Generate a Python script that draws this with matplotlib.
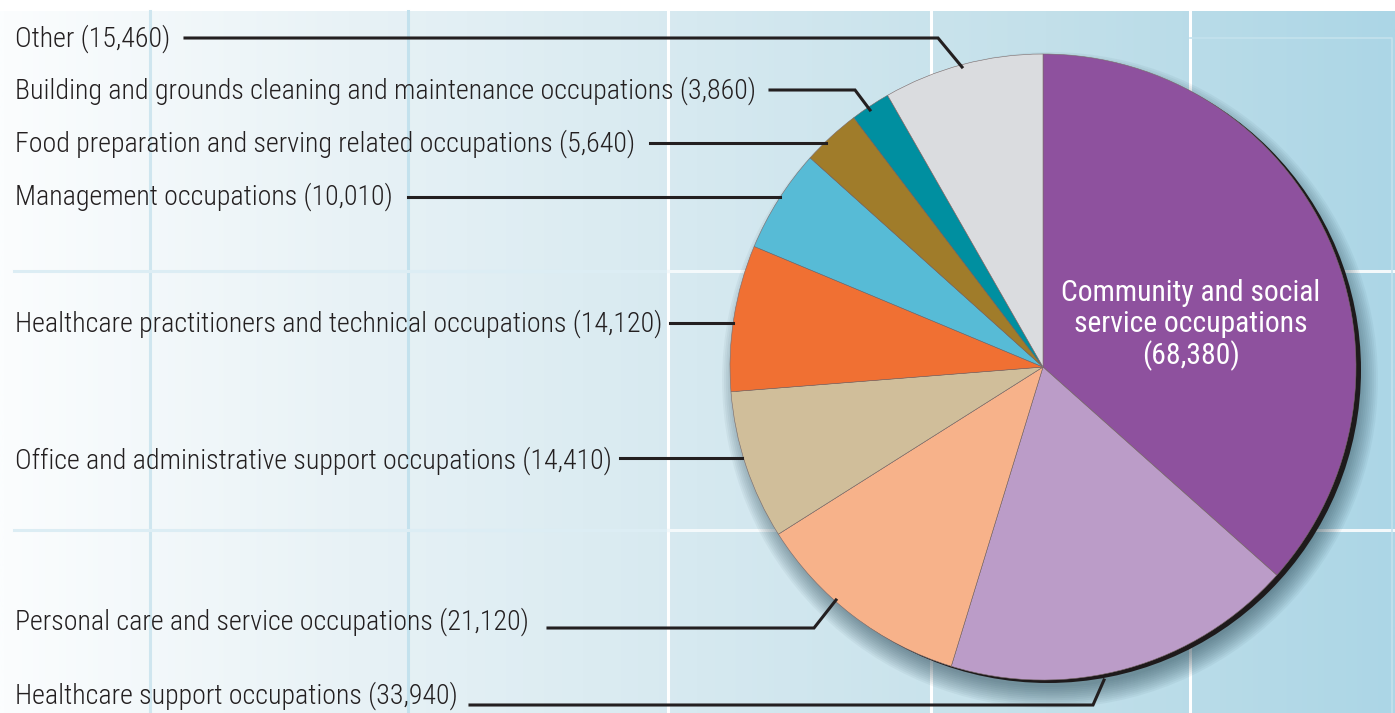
import numpy as np
import matplotlib
matplotlib.use('Agg')
import matplotlib.pyplot as plt
from matplotlib.patches import Circle
from matplotlib.colors import LinearSegmentedColormap

# data, clockwise from the top
occupations = ['Community and social service occupations',
               'Healthcare support occupations',
               'Personal care and service occupations',
               'Office and administrative support occupations',
               'Healthcare practitioners and technical occupations',
               'Management occupations',
               'Food preparation and serving related occupations',
               'Building and grounds cleaning and maintenance occupations',
               'Other']
employment = [68380, 33940, 21120, 14410, 14120, 10010, 5640, 3860, 15460]
slice_colors = ['#8e519e', '#bb9cc8', '#f7b28a', '#d0be9a', '#f07033',
                '#57bbd6', '#a07c2a', '#008fa0', '#dadcdf']

FONT = ['Roboto Condensed', 'DejaVu Sans']

W, H = 1395, 713
fig = plt.figure(figsize=(W / 100, H / 100), dpi=100)
ax = fig.add_axes([0, 0, 1, 1])

def Y(y):
    # pixel row (from top) -> data y
    return H - y

# background gradient
bg = LinearSegmentedColormap.from_list('bg', ['#fbfdfe', '#e8f2f6', '#d6e9f0', '#c3e0ea', '#acd6e6'])
grad = np.linspace(0, 1, 512).reshape(1, -1)
ax.imshow(grad, cmap=bg, extent=(0, W, 0, Y(11)), aspect='auto', zorder=0)

# grid lines on background
for x, c in [(150, '#cfe6ef'), (408, '#c3e1ed'), (668, 'white'), (931, 'white'), (1190, 'white')]:
    ax.plot([x, x], [0, Y(11)], color=c, lw=2.2, zorder=1)
for y in [271, 530]:
    ax.plot([14, 668], [Y(y), Y(y)], color='#dcedf4', lw=2.2, zorder=1)
    ax.plot([668, W], [Y(y), Y(y)], color='#f4f9fb', lw=2.2, zorder=1)
ax.plot([1190, 1392, 1392], [Y(38), Y(38), 0], color='#c4e2ed', lw=1.2, zorder=1)

cx, cy, r = 1043, Y(367), 313

# soft shadow, mostly below and to the right
for k in range(12):
    ax.add_patch(Circle((cx + 7, cy - 13), r - 6 + k * 1.9,
                        color='#1d3c4a', alpha=0.05, lw=0, zorder=2))
ax.add_patch(Circle((cx + 5, cy - 3), r, color='#1e1a1b', lw=0, zorder=3))

wedges, _ = ax.pie(employment, colors=slice_colors, startangle=90, counterclock=False,
                   center=(cx, cy), radius=r, frame=True,
                   wedgeprops=dict(linewidth=0.4, edgecolor='#7a6a6a'))
for w in wedges:
    w.set_zorder(4)
ax.set_xlim(0, W)
ax.set_ylim(0, H)
ax.set_aspect('equal')
ax.axis('off')

inner = ax.text(1191, Y(325), 'Community and social\nservice occupations\n(%s)' % format(employment[0], ','),
                color='white', fontsize=20, ha='center', va='center', linespacing=1.12,
                family=FONT, zorder=6)

# labels with leader lines: (label row, line path)
label_rows = [None, 696, 622, 461, 324, 197, 144, 91, 39]
leader_paths = [None,
                [(470, 705), (1093, 705), (1104, 680)],
                [(548, 628), (814, 628), (836, 600)],
                [(620, 458), (742, 458)],
                [(670, 323), (733, 323)],
                [(408, 197), (780, 197)],
                [(650, 143), (826, 143)],
                [(770, 90), (855, 90), (870, 110)],
                [(185, 38), (938, 38), (962, 67)]]

labels = []
for i in range(1, len(occupations)):
    t = ax.text(15, Y(label_rows[i]), '%s (%s)' % (occupations[i], format(employment[i], ',')),
                fontsize=20, color='#231f20', ha='left', va='center',
                family=FONT, weight='light', zorder=6)
    labels.append(t)
    xs = [p[0] for p in leader_paths[i]]
    ys = [Y(p[1]) for p in leader_paths[i]]
    ax.plot(xs, ys, color='#231f20', lw=2.2, solid_joinstyle='miter', zorder=5)

# fit font size so the longest label spans the same width as in the reference
fig.canvas.draw()
rend = fig.canvas.get_renderer()
longest = labels[6]  # Building and grounds ...
wpx = longest.get_window_extent(rend).width
size = 20 * 740 / wpx
for t in labels:
    t.set_fontsize(size)
wpx = inner.get_window_extent(rend).width
inner.set_fontsize(20 * 259 / wpx)

fig.savefig('out.png', dpi=100)
